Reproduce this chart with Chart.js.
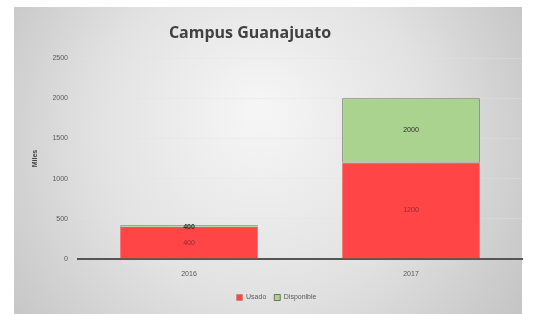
<!DOCTYPE html>
<html>
<head>
<meta charset="utf-8">
<script src="https://cdn.jsdelivr.net/npm/chart.js@4"></script>
<style>
  html, body { margin: 0; padding: 0; background: #fff; }
  #wrap { width: 536px; height: 314px; }
</style>
</head>
<body>
<div id="wrap"><canvas id="chart" width="536" height="314"></canvas></div>
<script>
// --- data ---
const chartTitle = 'Campus Guanajuato';
const years = ['2016', '2017'];
const usado = [400, 1200];
const disponible = [20, 800];
const usadoLabels = ['400', '1200'];
const disponibleLabels = ['400', '2000'];
const yTicks = [0, 500, 1000, 1500, 2000, 2500];

const textGray = '#595959';

// gray panel with a soft light centre, drawn behind everything
const panelBg = {
    id: 'panelBg',
    beforeDraw(chart) {
        const c = chart.ctx;
        c.save();
        c.fillStyle = '#ffffff';
        c.fillRect(0, 0, chart.width, chart.height);
        const g = c.createRadialGradient(260, 110, 10, 260, 150, 320);
        g.addColorStop(0, '#f5f5f5');
        g.addColorStop(0.5, '#e2e2e2');
        g.addColorStop(1, '#c2c2c2');
        c.fillStyle = g;
        c.fillRect(14, 7, 508, 307);
        c.restore();
    }
};

// title sits a bit left of centre in the original, so it is drawn here
const titleText = {
    id: 'titleText',
    afterDraw(chart) {
        const c = chart.ctx;
        c.save();
        c.font = 'bold 16px "Open Sans", sans-serif';
        c.fillStyle = '#404040';
        c.textAlign = 'center';
        c.textBaseline = 'middle';
        c.fillText(chartTitle, 250, 33);
        c.restore();
    }
};

// values written in the middle of each segment
const segLabels = {
    id: 'segLabels',
    afterDatasetsDraw(chart) {
        const c = chart.ctx;
        const texts = [usadoLabels, disponibleLabels];
        c.save();
        c.textAlign = 'center';
        c.textBaseline = 'middle';
        chart.data.datasets.forEach((ds, di) => {
            const meta = chart.getDatasetMeta(di);
            meta.data.forEach((bar, i) => {
                const mid = (bar.y + bar.base) / 2;
                c.fillStyle = di === 1 ? '#2b2b2b' : '#8a2e2e';
                if (di === 1 && Math.abs(bar.base - bar.y) < 6) {
                    c.font = 'bold 7px "Liberation Sans", Arial, sans-serif';
                    c.fillText(texts[di][i], bar.x, bar.y + 2);
                } else {
                    c.font = '7px "Liberation Sans", Arial, sans-serif';
                    c.fillText(texts[di][i], bar.x, mid);
                }
            });
        });
        c.restore();
    }
};

const ctx = document.getElementById('chart').getContext('2d');
new Chart(ctx, {
    type: 'bar',
    data: {
        labels: years,
        datasets: [
            {
                label: 'Usado',
                data: usado,
                backgroundColor: '#ff4545',
                borderColor: 'rgba(90,60,55,0.8)',
                borderWidth: { top: 1, left: 0, right: 0, bottom: 0 },
                categoryPercentage: 0.62,
                barPercentage: 1
            },
            {
                label: 'Disponible',
                data: disponible,
                backgroundColor: '#a9d38f',
                borderColor: 'rgba(95,95,80,0.85)',
                borderWidth: 1,
                categoryPercentage: 0.62,
                barPercentage: 1
            }
        ]
    },
    plugins: [panelBg, segLabels, titleText],
    options: {
        responsive: false,
        animation: false,
        layout: { padding: { left: 31, right: 14, top: 58, bottom: 3 } },
        plugins: {
            title: { display: false },
            legend: {
                position: 'bottom',
                labels: {
                    color: textGray,
                    boxWidth: 6,
                    boxHeight: 6,
                    padding: 8,
                    font: { family: '"Liberation Sans", sans-serif', size: 7 }
                }
            },
            tooltip: { enabled: false }
        },
        scales: {
            x: {
                stacked: true,
                grid: { display: false },
                border: { color: '#555555', width: 2 },
                ticks: {
                    color: textGray,
                    padding: 3,
                    font: { family: '"Liberation Sans", sans-serif', size: 7 }
                },
                afterFit(scale) { scale.height = 27; }
            },
            y: {
                stacked: true,
                min: 0,
                max: 2500,
                afterBuildTicks(scale) { scale.ticks = yTicks.map(v => ({ value: v })); },
                grid: { color: 'rgba(225,225,225,0.35)', drawTicks: false },
                border: { display: false },
                ticks: {
                    color: textGray,
                    padding: 10,
                    callback: v => String(v),
                    font: { family: '"Liberation Sans", sans-serif', size: 7 }
                },
                title: {
                    display: true,
                    text: 'Miles',
                    color: '#404040',
                    font: { family: '"Liberation Sans", sans-serif', size: 7, weight: 'bold' },
                    padding: { top: 0, bottom: 8 }
                },
                afterFit(scale) { scale.width = 47; }
            }
        }
    }
});
</script>
</body>
</html>
